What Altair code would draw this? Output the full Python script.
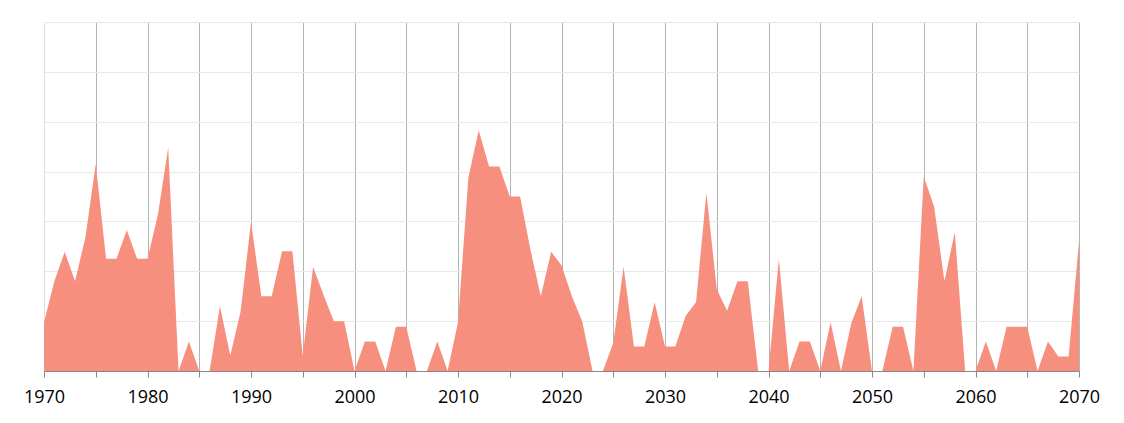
import altair as alt
import pandas as pd

years = list(range(1970, 2071))
values = [
    0.98, 1.80, 2.39, 1.80, 2.68, 4.15, 2.25, 2.25, 2.83, 2.25,  # 1970-1979
    2.25, 3.13, 4.48, 0.00, 0.59, 0.00, 0.00, 1.30, 0.31, 1.20,  # 1980-1989
    2.99, 1.50, 1.50, 2.40, 2.40, 0.31, 2.09, 1.53, 1.00, 1.00,  # 1990-1999
    0.00, 0.59, 0.59, 0.00, 0.89, 0.89, 0.00, 0.00, 0.59, 0.00,  # 2000-2009
    0.98, 3.87, 4.83, 4.10, 4.10, 3.50, 3.50, 2.43, 1.50, 2.39,  # 2010-2019
    2.12, 1.50, 1.00, 0.00, 0.00, 0.56, 2.09, 0.49, 0.49, 1.38,  # 2020-2029
    0.49, 0.49, 1.11, 1.38, 3.58, 1.64, 1.21, 1.80, 1.80, 0.00,  # 2030-2039
    0.00, 2.25, 0.00, 0.59, 0.59, 0.00, 0.98, 0.00, 0.96, 1.50,  # 2040-2049
    0.00, 0.00, 0.89, 0.89, 0.00, 3.90, 3.30, 1.80, 2.79, 0.00,  # 2050-2059
    0.00, 0.59, 0.00, 0.89, 0.89, 0.89, 0.00, 0.59, 0.29, 0.29,  # 2060-2069
    2.60,                                                        # 2070
]
tick_years = list(range(1970, 2071, 5))

df = pd.DataFrame({"year": years, "value": values})

chart = (
    alt.Chart(df)
    .mark_area(color="#F78F7F", opacity=1, interpolate="linear")
    .encode(
        x=alt.X(
            "year:Q",
            scale=alt.Scale(domain=[1970, 2070], nice=False, zero=False),
            axis=alt.Axis(
                title=None,
                values=tick_years,
                labelExpr="datum.value % 10 == 0 ? datum.value : ''",
                labelFont="Open Sans",
                labelFontSize=18,
                labelColor="#000000",
                labelPadding=11,
                tickSize=6,
                tickColor="#888888",
                domainColor="#888888",
                grid=True,
                gridColor={"condition": {"test": "datum.value <= 1970", "value": "#e0e0e0"}, "value": "#b3b3b3"},
                gridWidth=1,
                labelFlush=False,
            ),
        ),
        y=alt.Y(
            "value:Q",
            scale=alt.Scale(domain=[0, 7], nice=False),
            axis=alt.Axis(
                title=None,
                values=[0, 1, 2, 3, 4, 5, 6, 7],
                labels=False,
                ticks=False,
                domain=False,
                grid=True,
                gridColor="#e8e8e8",
            ),
        ),
    )
    .properties(
        width=1035,
        height=349,
        autosize=alt.AutoSizeParams(type="none"),
        padding={"left": 36, "top": 14, "right": 30, "bottom": 40},
    )
    .configure_view(stroke=None)
)

chart.save("out.html", embed_options={"renderer": "svg", "actions": False})
